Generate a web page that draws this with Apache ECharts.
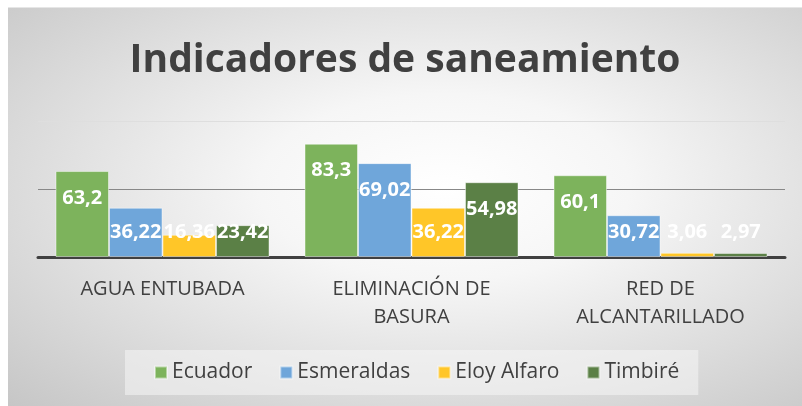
<!DOCTYPE html>
<html>
<head>
    <meta charset="utf-8">
    <title>Indicadores de saneamiento</title>
    <script src="https://cdn.jsdelivr.net/npm/echarts@6/dist/echarts.min.js"></script>
    <style>
        html, body { margin: 0; padding: 0; background: #fff; }
        #chart {
            position: absolute; left: 8px; top: 7px; width: 794px; height: 399px;
            background: radial-gradient(ellipse at 55% 45%, #ffffff 0%, #f6f6f6 30%, #c6c6c6 100%);
            border-top: 1px solid #e6e6e6;
            box-sizing: border-box;
        }
    </style>
</head>
<body>
<div id="chart"></div>
<script type="text/javascript">
    // datos
    var categorias = ['AGUA ENTUBADA', 'ELIMINACIÓN DE\nBASURA', 'RED DE\nALCANTARILLADO'];
    var ecuador = [63.2, 83.3, 60.1];
    var esmeraldas = [36.22, 69.02, 30.72];
    var eloyAlfaro = [16.36, 36.22, 3.06];
    var timbire = [23.42, 54.98, 2.97];
    var nombres = ['Ecuador', 'Esmeraldas', 'Eloy Alfaro', 'Timbiré'];
    var colores = ['#7db35c', '#6fa6da', '#ffc628', '#5b8046'];

    var myChart = echarts.init(document.getElementById('chart'));

    // etiqueta dentro de la barra; las barras bajas llevan la etiqueta a altura fija
    function datosConEtiqueta(valores) {
        return valores.map(function (v) {
            var bajo = v < 38;
            return {
                value: v,
                label: {
                    position: bajo ? 'insideBottom' : 'insideTop',
                    distance: bajo ? 13 : 15
                }
            };
        });
    }

    function serie(nombre, valores, color) {
        return {
            name: nombre,
            type: 'bar',
            barWidth: 53.5,
            barGap: '0%',
            itemStyle: { color: color, borderColor: 'rgba(255,255,255,0.45)', borderWidth: 1 },
            label: {
                show: true,
                color: '#fff',
                fontFamily: 'Open Sans',
                fontWeight: 'bold',
                fontSize: 20,
                lineHeight: 24,
                formatter: function (p) { return String(p.value).replace('.', ','); }
            },
            data: datosConEtiqueta(valores)
        };
    }

    var option = {
        title: {
            text: 'Indicadores de saneamiento',
            left: 'center',
            top: 30,
            padding: 0,
            textStyle: { fontFamily: 'Open Sans', fontWeight: 'bold', fontSize: 39, lineHeight: 46, color: '#404040' }
        },
        legend: {
            data: nombres,
            left: 117,
            top: 342,
            padding: [12, 19, 12, 29],
            backgroundColor: 'rgba(245,245,245,0.55)',
            itemWidth: 12,
            itemHeight: 12,
            itemGap: 27,
            icon: 'rect',
            textStyle: { fontFamily: 'Open Sans', fontSize: 21, color: '#404040' }
        },
        grid: { left: 30, right: 17, top: 113, bottom: 149 },
        xAxis: {
            type: 'category',
            data: categorias,
            axisLine: { lineStyle: { color: '#404040', width: 3 } },
            axisTick: { show: false },
            axisLabel: { color: '#404040', fontFamily: 'Open Sans', fontSize: 20, lineHeight: 28, margin: 18, interval: 0 }
        },
        yAxis: {
            type: 'value',
            min: 0,
            max: 100,
            interval: 50,
            axisLabel: { show: false },
            axisLine: { show: false },
            axisTick: { show: false },
            splitLine: { lineStyle: { color: ['#888', '#888', '#dedede'], width: 1 } }
        },
        series: [
            serie(nombres[0], ecuador, colores[0]),
            serie(nombres[1], esmeraldas, colores[1]),
            serie(nombres[2], eloyAlfaro, colores[2]),
            serie(nombres[3], timbire, colores[3])
        ]
    };

    myChart.setOption(option);
</script>
</body>
</html>
